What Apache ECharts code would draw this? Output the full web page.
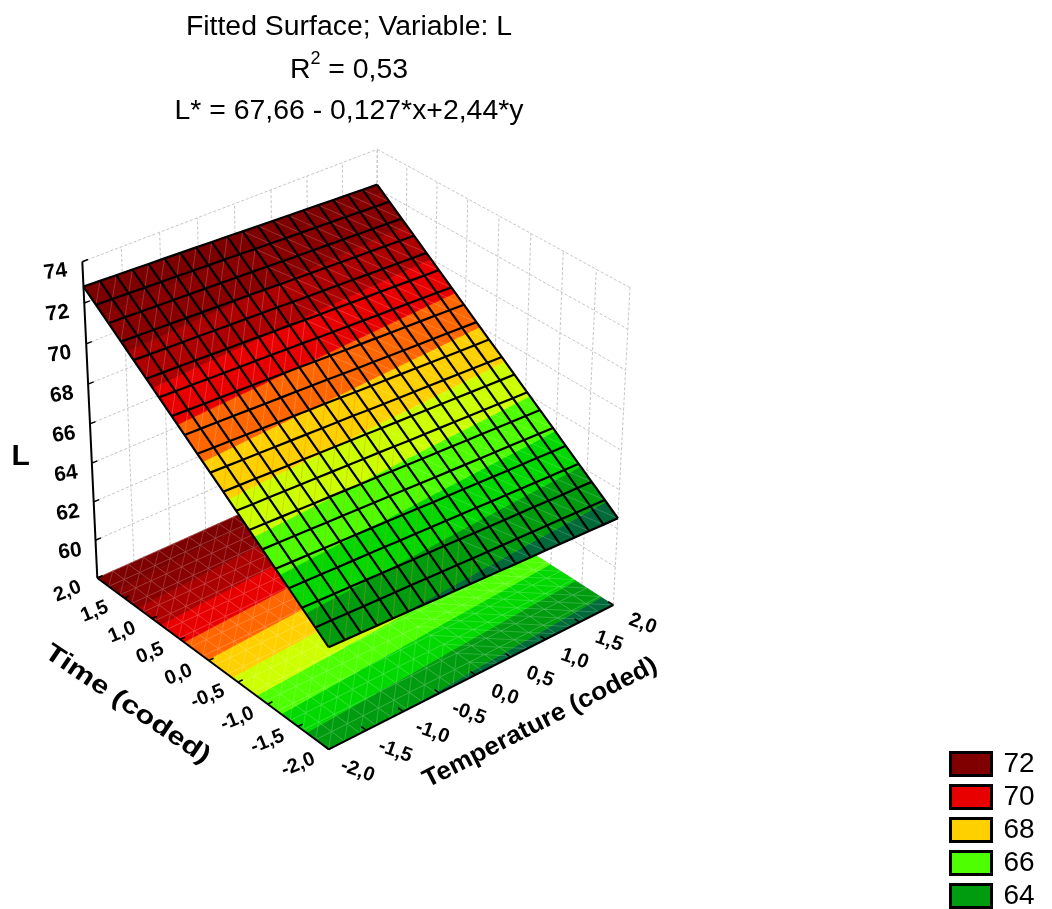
<!DOCTYPE html>
<html>
<head>
<meta charset="utf-8">
<style>html,body{margin:0;padding:0;background:#fff}#c{width:1052px;height:909px}</style>
<script src="https://cdn.jsdelivr.net/npm/echarts@6/dist/echarts.min.js"></script>
</head>
<body>
<div id="c"></div>
<script>
// ---------- data ----------
const titleLines = ['Fitted Surface; Variable: L', '{n|R}{s|2}{n| = 0,53}', 'L* = 67,66 - 0,127*x+2,44*y'];
const xTickLabels = ['-2,0','-1,5','-1,0','-0,5','0,0','0,5','1,0','1,5','2,0'];
const yTickLabels = ['2,0','1,5','1,0','0,5','0,0','-0,5','-1,0','-1,5','-2,0'];
const zTicks = [60,62,64,66,68,70,72,74];
const zFloor = 58;
const xAxisName = 'Temperature (coded)';
const yAxisName = 'Time (coded)';
const zAxisName = 'L';
const legendLabels = ['72','70','68','66','64'];
const legendColors = ['#800000','#e80000','#ffd000','#4dff00','#009c10'];
const bandLimits = [63,64,65,66,67,68,69,70,71,72];
const bandColors = ['#006a3a','#009c10','#00d800','#4dff00','#ccff00','#ffd000','#ff6600','#e80000','#ad0000','#880000','#7c0000'];
// fitted L on the 20 x 20 mesh: rows run from the left axis end to the front, columns toward the back
const surfaceL = [
[72.80,72.77,72.74,72.71,72.68,72.65,72.62,72.59,72.56,72.53,72.49,72.46,72.43,72.40,72.37,72.34,72.31,72.28,72.25,72.22],
[72.29,72.26,72.23,72.20,72.17,72.14,72.11,72.08,72.05,72.02,71.98,71.95,71.92,71.89,71.86,71.83,71.80,71.77,71.74,71.71],
[71.78,71.75,71.72,71.69,71.66,71.63,71.60,71.57,71.54,71.51,71.47,71.44,71.41,71.38,71.35,71.32,71.29,71.26,71.23,71.20],
[71.27,71.24,71.21,71.18,71.15,71.12,71.09,71.06,71.03,71.00,70.96,70.93,70.90,70.87,70.84,70.81,70.78,70.75,70.72,70.69],
[70.76,70.73,70.70,70.67,70.64,70.61,70.58,70.55,70.52,70.49,70.45,70.42,70.39,70.36,70.33,70.30,70.27,70.24,70.21,70.18],
[70.25,70.22,70.19,70.16,70.13,70.10,70.07,70.04,70.01,69.98,69.94,69.91,69.88,69.85,69.82,69.79,69.76,69.73,69.70,69.67],
[69.74,69.71,69.68,69.65,69.62,69.59,69.56,69.53,69.50,69.47,69.43,69.40,69.37,69.34,69.31,69.28,69.25,69.22,69.19,69.16],
[69.23,69.20,69.17,69.14,69.11,69.08,69.05,69.02,68.99,68.96,68.92,68.89,68.86,68.83,68.80,68.77,68.74,68.71,68.68,68.65],
[68.72,68.69,68.66,68.63,68.60,68.57,68.54,68.51,68.48,68.45,68.41,68.38,68.35,68.32,68.29,68.26,68.23,68.20,68.17,68.14],
[68.21,68.18,68.15,68.12,68.09,68.06,68.03,68.00,67.97,67.94,67.90,67.87,67.84,67.81,67.78,67.75,67.72,67.69,67.66,67.63],
[67.71,67.68,67.65,67.62,67.59,67.56,67.53,67.50,67.47,67.44,67.40,67.37,67.34,67.31,67.28,67.25,67.22,67.19,67.16,67.13],
[67.20,67.17,67.14,67.11,67.08,67.05,67.02,66.99,66.96,66.93,66.89,66.86,66.83,66.80,66.77,66.74,66.71,66.68,66.65,66.62],
[66.69,66.66,66.63,66.60,66.57,66.54,66.51,66.48,66.45,66.42,66.38,66.35,66.32,66.29,66.26,66.23,66.20,66.17,66.14,66.11],
[66.18,66.15,66.12,66.09,66.06,66.03,66.00,65.97,65.94,65.91,65.87,65.84,65.81,65.78,65.75,65.72,65.69,65.66,65.63,65.60],
[65.67,65.64,65.61,65.58,65.55,65.52,65.49,65.46,65.43,65.40,65.36,65.33,65.30,65.27,65.24,65.21,65.18,65.15,65.12,65.09],
[65.16,65.13,65.10,65.07,65.04,65.01,64.98,64.95,64.92,64.89,64.85,64.82,64.79,64.76,64.73,64.70,64.67,64.64,64.61,64.58],
[64.65,64.62,64.59,64.56,64.53,64.50,64.47,64.44,64.41,64.38,64.34,64.31,64.28,64.25,64.22,64.19,64.16,64.13,64.10,64.07],
[64.14,64.11,64.08,64.05,64.02,63.99,63.96,63.93,63.90,63.87,63.83,63.80,63.77,63.74,63.71,63.68,63.65,63.62,63.59,63.56],
[63.63,63.60,63.57,63.54,63.51,63.48,63.45,63.42,63.39,63.36,63.32,63.29,63.26,63.23,63.20,63.17,63.14,63.11,63.08,63.05],
[63.12,63.09,63.06,63.03,63.00,62.97,62.94,62.91,62.88,62.85,62.81,62.78,62.75,62.72,62.69,62.66,62.63,62.60,62.57,62.54]
];

// ---------- view: perspective of the 3D box onto the page plane ----------
const view = {
  floor: [[97.3,578],[376,453],[613.3,605],[328.7,749.3]],   // (u,v) = (0,0),(1,0),(1,1),(0,1)
  top:   [[82.3,261.7],[377.3,149.3],[630,287.7],[328.6,419]],
  zMin: 58, zMax: 74, zPerspective: 0.95
};
function squareToQuad(q){
  const [[x0,y0],[x1,y1],[x2,y2],[x3,y3]] = q;
  const dx1=x1-x2, dx2=x3-x2, sx=x0-x1+x2-x3, dy1=y1-y2, dy2=y3-y2, sy=y0-y1+y2-y3;
  const den=dx1*dy2-dx2*dy1, g=(sx*dy2-dx2*sy)/den, h=(dx1*sy-sx*dy1)/den;
  const a=x1-x0+g*x1, b=x3-x0+h*x3, d=y1-y0+g*y1, e=y3-y0+h*y3;
  return (u,v)=>{const w=g*u+h*v+1; return [(a*u+b*v+x0)/w,(d*u+e*v+y0)/w];};
}
const floorH = squareToQuad(view.floor), topH = squareToQuad(view.top);
function project(u,v,z){
  const t=(z-view.zMin)/(view.zMax-view.zMin), r=view.zPerspective;
  const f=t*r/((1-t)+t*r), p0=floorH(u,v), p1=topH(u,v);
  return [p0[0]+(p1[0]-p0[0])*f, p0[1]+(p1[1]-p0[1])*f];
}
// clip a polygon of [u,v,L] vertices to one side of a level
function clipBand(poly,lim,keepAbove){
  const out=[];
  for(let k=0;k<poly.length;k++){
    const a=poly[k], b=poly[(k+1)%poly.length];
    const ia=keepAbove?a[2]>=lim:a[2]<=lim, ib=keepAbove?b[2]>=lim:b[2]<=lim;
    if(ia) out.push(a);
    if(ia!==ib){const s=(lim-a[2])/(b[2]-a[2]); out.push([a[0]+(b[0]-a[0])*s,a[1]+(b[1]-a[1])*s,lim]);}
  }
  return out;
}
const N = surfaceL.length-1;
const cells=[]; for(let j=0;j<N;j++) for(let i=0;i<N;i++) cells.push([i,j]);
function cellShape(api,i,j,zAt,isFloor){
  const q=[[i/N,j/N,surfaceL[j][i]],[(i+1)/N,j/N,surfaceL[j][i+1]],[(i+1)/N,(j+1)/N,surfaceL[j+1][i+1]],[i/N,(j+1)/N,surfaceL[j+1][i]]];
  const children=[];
  const P=(v)=>api.coord(project(v[0],v[1],zAt===null?v[2]:zAt));
  for(let b=0;b<bandColors.length;b++){
    let poly=q;
    if(b>0) poly=clipBand(poly,bandLimits[b-1],true);
    if(poly.length&&b<bandLimits.length) poly=clipBand(poly,bandLimits[b],false);
    if(poly.length<3) continue;
    children.push({type:'polygon',silent:true,shape:{points:poly.map(P)},style:{fill:bandColors[b],stroke:bandColors[b],lineWidth:0.7}});
  }
  const horizontalDiag=i>=N/2;
  const d0=horizontalDiag?q[0]:q[1], d1=horizontalDiag?q[2]:q[3];
  const warm=d0[2]>=68||isFloor||horizontalDiag;
  const thin=warm?'rgba(255,255,255,0.24)':'rgba(225,140,20,0.45)';
  children.push({type:'polyline',silent:true,shape:{points:[P(d0),P(d1)]},style:{fill:null,stroke:thin,lineWidth:0.8}});
  if(isFloor){
    children.push({type:'polyline',silent:true,shape:{points:[P(q[3]),P(q[0]),P(q[1])]},style:{fill:null,stroke:'rgba(255,255,255,0.24)',lineWidth:0.8}});
  }
  return {type:'group',children};
}
function line(api,a,b,style){
  return {type:'polyline',silent:true,shape:{points:[api.coord(project(...a)),api.coord(project(...b))]},style:Object.assign({fill:null},style)};
}
const wallDash={stroke:'#c6c6c6',lineWidth:1,lineDash:[3,2]};
const tickFracs=xTickLabels.map((_,k)=>k/(xTickLabels.length-1));
const zAll=[zFloor].concat(zTicks);
function textEl(api,pos,text,size,rot,scaleX){
  const c=api.coord(pos);
  return {type:'text',silent:true,x:c[0],y:c[1],rotation:rot,scaleX:scaleX||1,
    style:{text,fill:'#000',font:'bold '+size+'px "Liberation Sans",Arial,sans-serif',align:'center',verticalAlign:'middle'}};
}

const series=[
  {type:'custom',name:'walls',coordinateSystem:'cartesian2d',silent:true,animation:false,data:[[0,0]],encode:{x:0,y:1},
   renderItem:(p,api)=>{
     const ch=[];
     tickFracs.forEach(f=>{
       ch.push(line(api,[f,0,view.zMin],[f,0,view.zMax],wallDash));
       ch.push(line(api,[1,f,view.zMin],[1,f,view.zMax],wallDash));
     });
     zAll.forEach(z=>{
       ch.push(line(api,[0,0,z],[1,0,z],wallDash));
       ch.push(line(api,[1,0,z],[1,1,z],wallDash));
     });
     return {type:'group',children:ch};
   }},
  {type:'custom',name:'floor',coordinateSystem:'cartesian2d',silent:true,animation:false,progressive:0,data:cells,encode:{x:0,y:1},
   renderItem:(p,api)=>cellShape(api,api.value(0),api.value(1),view.zMin,true)},
  {type:'custom',name:'frame',coordinateSystem:'cartesian2d',silent:true,animation:false,data:[[0,0]],encode:{x:0,y:1},
   renderItem:(p,api)=>{
     const k={stroke:'#000',lineWidth:2}, t={stroke:'#000',lineWidth:1.5};
     const ch=[line(api,[0,0,view.zMin],[0,0,view.zMax],k),line(api,[0,0,view.zMin],[0,1,view.zMin],k),line(api,[0,1,view.zMin],[1,1,view.zMin],k)];
     zAll.forEach(z=>ch.push(line(api,[0,0,z],[0.018,0,z],t)));
     tickFracs.forEach(f=>{
       ch.push(line(api,[0,f,view.zMin],[0.016,f,view.zMin],t));
       ch.push(line(api,[f,1,view.zMin],[f,0.98,view.zMin],t));
     });
     return {type:'group',children:ch};
   }},
  {type:'custom',name:'surface',coordinateSystem:'cartesian2d',silent:true,animation:false,progressive:0,data:cells,encode:{x:0,y:1},
   renderItem:(p,api)=>cellShape(api,api.value(0),api.value(1),null,false)},
  {type:'custom',name:'mesh',coordinateSystem:'cartesian2d',silent:true,animation:false,data:surfaceL.map((_,k)=>[k,0]),encode:{x:0,y:1},
   renderItem:(p,api)=>{
     const k=api.value(0), a=[], b=[];
     for(let m=0;m<=N;m++){
       a.push(api.coord(project(m/N,k/N,surfaceL[k][m])));
       b.push(api.coord(project(k/N,m/N,surfaceL[m][k])));
     }
     const st={fill:null,stroke:'#000',lineWidth:2.2};
     return {type:'group',children:[{type:'polyline',silent:true,shape:{points:a},style:st},{type:'polyline',silent:true,shape:{points:b},style:st}]};
   }},
  {type:'custom',name:'labels',coordinateSystem:'cartesian2d',silent:true,animation:false,data:[[0,0]],encode:{x:0,y:1},
   renderItem:(p,api)=>{
     const ch=[], f=Math.PI/180;
     zTicks.forEach(z=>ch.push(textEl(api,project(-0.085,0,z),String(z),21,8*f)));
     yTickLabels.forEach((s,k)=>ch.push(textEl(api,project(-0.1,tickFracs[k],view.zMin),s,20,22*f)));
     xTickLabels.forEach((s,k)=>ch.push(textEl(api,project(tickFracs[k],1.115,view.zMin),s,20,-20*f)));
     ch.push(textEl(api,project(-0.281,0.518,view.zMin),yAxisName,25,-34*f,1.25));
     ch.push(textEl(api,project(0.49,1.263,view.zMin),xAxisName,25,27*f,1.05));
     ch.push(textEl(api,project(-0.225,0,65.8),zAxisName,30,0));
     return {type:'group',children:ch};
   }}
];
legendLabels.forEach(n=>series.push({type:'custom',name:n,coordinateSystem:'cartesian2d',silent:true,data:[],renderItem:()=>null}));

const FF='"Liberation Sans",Arial,sans-serif';
const titleBase={left:349,textAlign:'center',padding:0,textStyle:{fontFamily:FF,fontWeight:'normal',fontSize:28.4,color:'#000'}};
const chart=echarts.init(document.getElementById('c'),null,{renderer:'canvas'});
chart.setOption({
  animation:false,
  backgroundColor:'#fff',
  tooltip:{show:false},
  title:[
    Object.assign({},titleBase,{text:titleLines[0],top:13}),
    {left:349,textAlign:'center',padding:0,top:50,text:titleLines[1],textStyle:{fontWeight:'normal',rich:{
      n:{fontFamily:FF,fontWeight:'normal',fontSize:28.4,color:'#000',lineHeight:34,verticalAlign:'bottom'},
      s:{fontFamily:FF,fontWeight:'normal',fontSize:18,color:'#000',lineHeight:34,verticalAlign:'top'}}}},
    Object.assign({},titleBase,{text:titleLines[2],top:97})
  ],
  grid:{left:0,right:0,top:0,bottom:0},
  xAxis:{type:'value',show:false,min:0,max:1052},
  yAxis:{type:'value',show:false,min:0,max:909,inverse:true},
  legend:{
    orient:'vertical',left:949,top:750,height:175,padding:0,itemWidth:41,itemHeight:23,itemGap:5,selectedMode:false,
    textStyle:{fontFamily:FF,fontSize:28,color:'#000',padding:[0,0,0,7]},
    data:legendLabels.map((n,i)=>({name:n,icon:'rect',itemStyle:{color:legendColors[i],borderColor:'#000',borderWidth:3}}))
  },
  series
});
</script>
</body>
</html>
